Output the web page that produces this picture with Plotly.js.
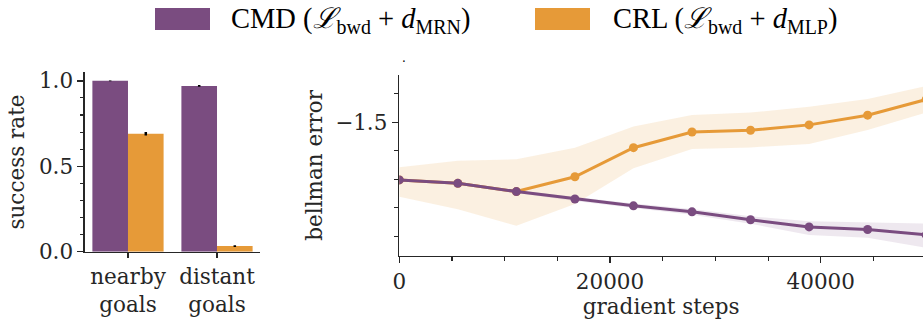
<!DOCTYPE html>
<html><head><meta charset="utf-8">
<script src="https://cdn.plot.ly/plotly-3.0.1.min.js"></script>
<style>html,body{margin:0;padding:0;background:#fff}#chart{width:923px;height:320px}
#chart svg text{font-stretch:normal !important;}</style>
</head><body><div id="chart"></div>
<script>
// Bar panel data
const barCategories = ["nearby<br>goals", "distant<br>goals"];
const barCMD = [1.0, 0.97];
const barCMDErr = [0.002, 0.005];
const barCRL = [0.69, 0.033];
const barCRLErr = [0.01, 0.005];

// Line panel data
const steps = [0, 5556, 11111, 16667, 22222, 27778, 33333, 38889, 44444, 50000];
const cmdMean = [-1.702, -1.714, -1.743, -1.769, -1.793, -1.814, -1.842, -1.867, -1.876, -1.895];
const cmdUpper = [-1.697, -1.709, -1.738, -1.762, -1.785, -1.804, -1.830, -1.847, -1.852, -1.855];
const cmdLower = [-1.707, -1.719, -1.748, -1.776, -1.801, -1.824, -1.856, -1.895, -1.905, -1.940];
const crlMean = [-1.702, -1.714, -1.743, -1.691, -1.589, -1.534, -1.528, -1.509, -1.475, -1.420];
const crlUpper = [-1.658, -1.635, -1.630, -1.589, -1.515, -1.474, -1.466, -1.445, -1.418, -1.373];
const crlLower = [-1.761, -1.805, -1.863, -1.787, -1.661, -1.594, -1.588, -1.576, -1.527, -1.466];

const legendLabels = ["CMD (<i>ℒ</i><sub>bwd</sub> + <i>d</i><sub>MRN</sub>)", "CRL (<i>ℒ</i><sub>bwd</sub> + <i>d</i><sub>MLP</sub>)"];

const PURPLE = "#7a4c80", ORANGE = "#e69a38";
const FONT = "DejaVu Serif";
const AX = "#262626";

const traces = [
  {type:"bar", x:[0,1], y:barCMD, width:0.4, offset:-0.4, marker:{color:PURPLE},
   error_y:{type:"data", array:barCMDErr, color:"#000", thickness:2.5, width:0},
   xaxis:"x", yaxis:"y", showlegend:false},
  {type:"bar", x:[0,1], y:barCRL, width:0.4, offset:0, marker:{color:ORANGE},
   error_y:{type:"data", array:barCRLErr, color:"#000", thickness:2.5, width:0},
   xaxis:"x", yaxis:"y", showlegend:false},
  // CRL band
  {type:"scatter", x:steps, y:crlUpper, mode:"lines", line:{width:0, color:ORANGE}, xaxis:"x2", yaxis:"y2", showlegend:false, hoverinfo:"skip"},
  {type:"scatter", x:steps, y:crlLower, mode:"lines", line:{width:0, color:ORANGE}, fill:"tonexty", fillcolor:"rgba(230,154,56,0.15)", xaxis:"x2", yaxis:"y2", showlegend:false, hoverinfo:"skip"},
  // CMD band
  {type:"scatter", x:steps, y:cmdUpper, mode:"lines", line:{width:0, color:PURPLE}, xaxis:"x2", yaxis:"y2", showlegend:false, hoverinfo:"skip"},
  {type:"scatter", x:steps, y:cmdLower, mode:"lines", line:{width:0, color:PURPLE}, fill:"tonexty", fillcolor:"rgba(122,76,128,0.13)", xaxis:"x2", yaxis:"y2", showlegend:false, hoverinfo:"skip"},
  {type:"scatter", x:steps, y:crlMean, mode:"lines+markers", line:{width:3, color:ORANGE}, marker:{size:9, color:ORANGE}, xaxis:"x2", yaxis:"y2", showlegend:false, cliponaxis:true},
  {type:"scatter", x:steps, y:cmdMean, mode:"lines+markers", line:{width:3, color:PURPLE}, marker:{size:9, color:PURPLE}, xaxis:"x2", yaxis:"y2", showlegend:false, cliponaxis:true}
];

const tickFont = {family:FONT, size:21.5, color:AX};
const titleFont = {family:FONT, size:21.5, color:AX};

const layout = {
  width:923, height:320,
  margin:{l:0, r:0, t:0, b:0},
  paper_bgcolor:"#fff", plot_bgcolor:"rgba(0,0,0,0)",
  showlegend:false,
  barmode:"overlay",
  xaxis:{domain:[85/923, 260/923], range:[-0.483, 1.483], tickvals:[0,1], ticktext:barCategories,
    showline:true, linecolor:AX, linewidth:1.6, ticks:"outside", ticklen:5, tickwidth:1.4, tickcolor:AX,
    showgrid:false, zeroline:false, tickfont:tickFont, anchor:"y", fixedrange:true},
  yaxis:{domain:[(320-251.7)/320, (320-72.3)/320], range:[0, 1.05], tickvals:[0, 0.5, 1.0], ticktext:["0.0","0.5","1.0"],
    showline:true, linecolor:AX, linewidth:1.6, ticks:"outside", ticklen:6, tickwidth:1.4, tickcolor:AX,
    minor:{dtick:0.1, tick0:0, ticks:"outside", ticklen:3.5, tickwidth:1.1, tickcolor:AX, showgrid:false},
    showgrid:false, zeroline:false, tickfont:tickFont, anchor:"x",
    title:{text:"success rate", font:titleFont, standoff:8}},
  xaxis2:{domain:[399.3/923, 1], range:[0, 49700], tickvals:[0, 20000, 40000], ticktext:["0","20000","40000"],
    showline:true, linecolor:AX, linewidth:1.6, ticks:"outside", ticklen:6, tickwidth:1.4, tickcolor:AX,
    minor:{dtick:5000, tick0:0, ticks:"outside", ticklen:3.5, tickwidth:1.1, tickcolor:AX, showgrid:false},
    showgrid:false, zeroline:false, tickfont:tickFont, anchor:"y2",
    title:{text:"gradient steps", font:titleFont, standoff:3}},
  yaxis2:{domain:[(320-255.7)/320, (320-75)/320], range:[-1.968, -1.334], tickvals:[-1.5], ticktext:["−1.5"],
    showline:true, linecolor:AX, linewidth:1.6, ticks:"outside", ticklen:6, tickwidth:1.4, tickcolor:AX,
    minor:{tickvals:[-1.9,-1.8,-1.7,-1.6,-1.4], ticks:"outside", ticklen:3.5, tickwidth:1.1, tickcolor:AX, showgrid:false},
    showgrid:false, zeroline:false, tickfont:tickFont, anchor:"x2",
    title:{text:"bellman error", font:titleFont, standoff:6}},
  shapes:[
    {type:"rect", xref:"paper", yref:"paper", x0:155/923, x1:210/923, y0:(320-30)/320, y1:(320-8)/320, fillcolor:PURPLE, line:{width:0}},
    {type:"rect", xref:"paper", yref:"paper", x0:535/923, x1:590/923, y0:(320-30)/320, y1:(320-8)/320, fillcolor:ORANGE, line:{width:0}}
  ],
  annotations:[
    {xref:"paper", yref:"paper", x:229/923, y:(320-20)/320, xanchor:"left", yanchor:"middle", text:legendLabels[0], showarrow:false, font:{family:"Liberation Serif", size:28.5, color:"#000"}},
    {xref:"paper", yref:"paper", x:611/923, y:(320-20)/320, xanchor:"left", yanchor:"middle", text:legendLabels[1], showarrow:false, font:{family:"Liberation Serif", size:28.5, color:"#000"}},
    {xref:"paper", yref:"paper", x:404/923, y:(320-58)/320, xanchor:"center", yanchor:"middle", text:".", showarrow:false, font:{family:FONT, size:12, color:"#000"}}
  ]
};

Plotly.newPlot("chart", traces, layout, {staticPlot:true, displayModeBar:false});
</script>
</body></html>
